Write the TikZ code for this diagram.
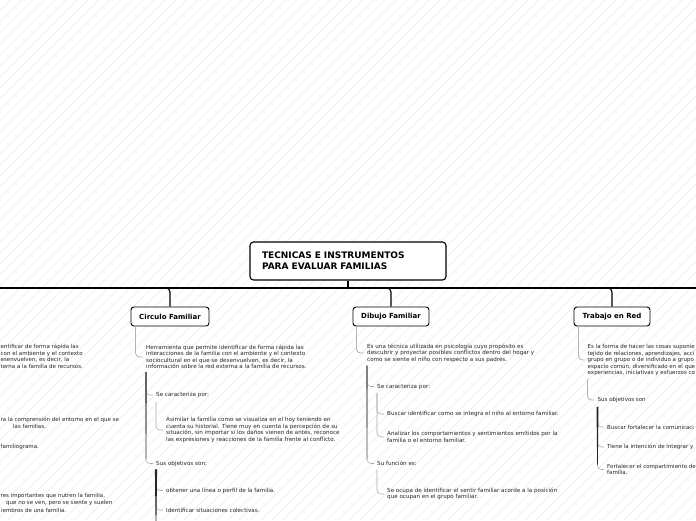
\documentclass[tikz,border=0pt]{standalone}
\usepackage{fontspec}
\setmainfont{DejaVu Sans}
\usetikzlibrary{calc}
\newcommand\mystem[4]{\fill[#4] ($(#1)+(-#3,0)$) -- ($(#1)+(#3,0)$) -- ($(#2)+(0.3,0)$) -- ($(#2)+(-0.3,0)$) -- cycle;}
\begin{document}
\begin{tikzpicture}[x=1pt,y=-1pt,
  stripe/.style={draw=black!5, line width=0.9pt},
  title/.style={draw=black, line width=1.1pt, rounded corners=3.5pt, fill=white,
    font=\bfseries\fontsize{9}{11}\selectfont, align=left, text width=172pt,
    inner xsep=12pt, inner ysep=0pt, minimum width=196pt, minimum height=38pt},
  topic/.style={draw=black, line width=0.9pt, rounded corners=3pt, fill=white,
    font=\bfseries\fontsize{7}{8}\selectfont, minimum height=19pt, inner xsep=0pt},
  txt/.style={font=\fontsize{5.6}{6.5}\selectfont, align=left, inner sep=0pt,
    anchor=west, text=black!85},
  txtb/.style={txt, font=\fontsize{5.5}{6.5}\selectfont},
  trunk/.style={draw=black, line width=1.8pt},
  branch/.style={draw=black, line width=1.1pt, rounded corners=4pt},
  lead/.style={draw=gray!60, line width=0.8pt, rounded corners=4pt},
  twig/.style={draw=gray!65, line width=0.55pt, rounded corners=4pt},
]
\useasboundingbox (0,0) rectangle (696,520);
\clip (0,0) rectangle (696,520);
\fill[white] (0,0) rectangle (696,520);
\foreach \k in {-520,-509,...,700} \draw[stripe] (\k,520) -- (\k+520,0);

% ---------- main topic and trunk ----------
\node[title] (main) at (348,261) {TECNICAS E INSTRUMENTOS\\PARA EVALUAR FAMILIAS};
\coordinate (L) at (0,288);
\coordinate (R) at (696,288);
\draw[trunk] (L) -- (R);
\draw[draw=black, line width=1.3pt] (main.south) -- (main.south |- L);

\node[topic, minimum width=78pt] (cf) at (170,316.5) {Circulo Familiar};
\node[topic, minimum width=76pt] (df) at (391,316.5) {Dibujo Familiar};
\node[topic, minimum width=76pt] (tr) at (612,316.5) {Trabajo en Red};
\foreach \n in {cf,df,tr}
  \draw[branch] ([xshift=-6pt]\n.north |- L) -- (\n.north |- L) -- (\n.north);

% ---------- left column (only its right part is in view) ----------
\node[txtb] (l1) at (0.5,347) {entificar de forma rápida las};
\node[txtb] (l2) at (0.5,353.5) {con el ambiente y el contexto};
\node[txtb] (l3) at (0.5,360) {esenvuelven, es decir, la};
\node[txtb] (l4) at (0.5,366.5) {terna a la familia de recursos.};
\node[txtb] (l5) at (0.5,420) {ra la comprensión del entorno en el que se};
\node[txtb] (l6) at (13,426.5) {las familias.};
\node[txtb] (l7) at (0.5,446.5) {familiograma.};
\node[txtb] (l8) at (0.5,496) {res importantes que nutren la familia,};
\node[txtb] (l9) at (6,503) {que no se ven, pero se siente y suelen};
\node[txtb] (l10) at (1,510) {iembros de una familia.};

% ---------- Circulo Familiar ----------
\node[txt] (desc1) at (146,357) {Herramienta que permite identificar de forma rápida las\\interacciones de la familia con el ambiente y el contexto\\sociocultural en el que se desenvuelven, es decir, la\\información sobre la red externa a la familia de recursos.};
\node[txt] (se1) at (156,395) {Se caracteriza por:};
\node[txt] (as1) at (166,430) {Asimilar la familia como se visualiza en el hoy teniendo en\\cuenta su historial. Tiene muy en cuenta la percepción de su\\situación, sin importar si los daños vienen de antes, reconoce\\las expresiones y reacciones de la familia frente al conflicto.};
\node[txt] (so1) at (156,463.5) {Sus objetivos son:};
\node[txt] (ob1) at (166,490.5) {obtener una línea o perfil de la familia.};
\node[txt] (id1) at (166,510) {Identificar situaciones colectivas.};
\coordinate (so1end) at (156,530);

\draw[lead] ([xshift=5pt]cf.south west) |- ([xshift=-3pt]desc1.west);
\coordinate (a1) at ($(desc1.south west)+(0,3)$);
\coordinate (b1) at ($(a1 |- so1.west)+(0,-5)$);
\draw[twig] (a1) |- ([xshift=-3pt]se1.west);
\draw[twig] (a1) |- ([xshift=-3pt]so1.west);
\mystem{a1}{b1}{1}{black!60}
\coordinate (a2) at ($(se1.south west)+(0,4)$);
\draw[twig] (a2) |- ([xshift=-3pt]as1.west);
\coordinate (a3) at ($(so1.south west)+(0,3)$);
\draw[twig] (a3) |- ([xshift=-3pt]ob1.west);
\draw[twig] (a3) |- ([xshift=-3pt]id1.west);
\mystem{a3}{so1end}{1.1}{black!85}

% ---------- Dibujo Familiar ----------
\node[txt] (desc2) at (367,353) {Es una técnica utilizada en psicología cuyo propósito es\\descubrir y proyectar posibles conflictos dentro del hogar y\\como se siente el niño con respecto a sus padres.};
\node[txt] (se2) at (377,386.5) {Se caracteriza por:};
\node[txt] (bu2) at (387,414) {Buscar identificar como se integra el niño al entorno familiar.};
\node[txt] (an2) at (387,437) {Analizar los comportamientos y sentimientos emitidos por la\\familia o el entorno familiar.};
\node[txt] (su2) at (377,463.5) {Su función es:};
\node[txt] (oc2) at (387,494) {Se ocupa de identificar el sentir familiar acorde a la posición\\que ocupan en el grupo familiar.};

\draw[lead] ([xshift=4pt]df.south west) |- ([xshift=-3pt]desc2.west);
\coordinate (d1) at ($(desc2.south west)+(0,3)$);
\coordinate (e1) at ($(d1 |- su2.west)+(0,-5)$);
\draw[twig] (d1) |- ([xshift=-3pt]se2.west);
\draw[twig] (d1) |- ([xshift=-3pt]su2.west);
\mystem{d1}{e1}{0.9}{black!50}
\coordinate (d2) at ($(se2.south west)+(0,4)$);
\draw[twig] (d2) |- ([xshift=-3pt]bu2.west);
\draw[twig] (d2) |- ([xshift=-3pt]an2.west);
\coordinate (d3) at ($(su2.south west)+(0,4)$);
\draw[twig] (d3) |- ([xshift=-3pt]oc2.west);

% ---------- Trabajo en Red (its right part is out of view) ----------
\node[txtb] (desc3) at (587.5,360) {Es la forma de hacer las cosas suponie\\tejido de relaciones, aprendizajes, acci\\grupo en grupo o de individuo a grupo\\espacio común, diversificado en el que\\experiencias, iniciativas y esfuerzos co};
\node[txtb] (so3) at (597.5,400) {Sus objetivos son};
\node[txtb] (bu3) at (607,427) {Buscar fortalecer la comunicaci};
\node[txtb] (ti3) at (607,447) {Tiene la intención de integrar y};
\node[txtb] (fo3) at (607,469.5) {Fortalecer el compartimiento de\\familia.};

\draw[lead] ([xshift=5pt]tr.south west) |- ([xshift=-3pt]desc3.west);
\coordinate (t1) at ($(desc3.south west)+(0,3)$);
\draw[lead] (t1) |- ([xshift=-3pt]so3.west);
\coordinate (t2) at ($(so3.south west)+(0,4)$);
\coordinate (u2) at ($(t2 |- fo3.west)+(0,-5)$);
\draw[twig] (t2) |- ([xshift=-3pt]bu3.west);
\draw[twig] (t2) |- ([xshift=-3pt]ti3.west);
\draw[twig] (t2) |- ([xshift=-3pt]fo3.west);
\mystem{t2}{u2}{1}{black!85}
\end{tikzpicture}
\end{document}
